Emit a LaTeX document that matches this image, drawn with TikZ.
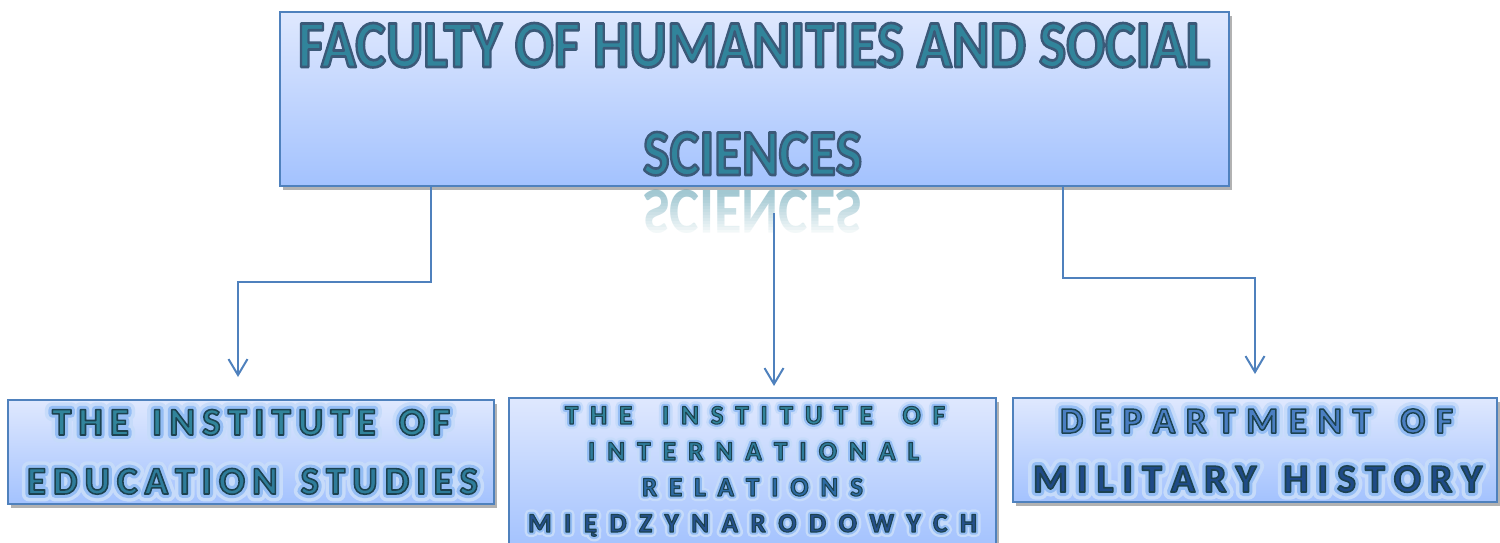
\documentclass[tikz,border=0pt]{standalone}
\usepackage{fontspec}
\setmainfont{Carlito}
\newfontfamily\glowfamA{Carlito}[BoldFeatures={FakeBold=38}]
\newfontfamily\glowfamB{Carlito}[BoldFeatures={FakeBold=20}]
\newfontfamily\edgefam{Carlito}[BoldFeatures={FakeBold=4}]
\usetikzlibrary{arrows.meta,shadows}
\definecolor{boxTop}{HTML}{DFE8FE}
\definecolor{boxMid}{HTML}{C8D9FE}
\definecolor{boxBot}{HTML}{A3C2FE}
\definecolor{boxEdge}{HTML}{4F81BD}
\definecolor{tealA}{HTML}{31849B}
\definecolor{tealB}{HTML}{2E7C9A}
\definecolor{blueC}{HTML}{2D6AA3}
\definecolor{blueD}{HTML}{25508C}
\definecolor{blueE}{HTML}{4A7EC2}
\definecolor{navyF}{HTML}{1F4A86}
\definecolor{glowA}{HTML}{C6DBFA}
\definecolor{glowB}{HTML}{94BDF4}
\newcommand\rjoin{\special{pdf:code 1 j 1 J}}
% stroke colour set after the fill colour (used by the emboldened outline)
\newcommand\edgeRG{\special{pdf:code 0.11 0.26 0.31 RG}}
\newcommand\edgeRGt{\special{pdf:code 0.23 0.35 0.47 RG}}
\def\spreadloop#1{\ifx#1\relax\else #1\hfill\expandafter\spreadloop\fi}
\newcommand\glowline[3]{%
  \def\gltxt{\makebox[#1][s]{\spreadloop#3\relax\unskip}}%
  \rjoin
  \makebox[0pt][l]{\glowfamA\bfseries\color{glowA}\gltxt}%
  \makebox[0pt][l]{\glowfamB\bfseries\color{glowB}\gltxt}%
  {\edgefam\bfseries\color{#2}\edgeRG\gltxt}%
}
\newcommand\toptext[3]{%
  \resizebox{#1}{#2}{\rjoin\edgefam\bfseries\color{tealA}\edgeRGt #3}%
}
\tikzset{
  box/.style={draw=boxEdge, line width=1.5pt, top color=boxTop, middle color=boxMid,
    bottom color=boxBot, inner sep=0pt, outer sep=0pt,
    drop shadow={shadow xshift=3pt, shadow yshift=-4pt, fill=black, opacity=0.3}},
  conn/.style={draw=boxEdge, line width=2pt, -{Straight Barb[length=16pt,width=19pt]}},
  txt/.style={anchor=base, inner sep=0pt, outer sep=0pt},
}
\begin{document}
\begin{tikzpicture}[x=1pt,y=-1pt]
\useasboundingbox (0,0) rectangle (1500,542);
% boxes
\node[box, minimum width=949pt, minimum height=174pt] (top) at (754.5,99) {};
\node[box, minimum width=486pt, minimum height=104pt] (left) at (251,452) {};
\node[box, minimum width=487pt, minimum height=150pt] (mid) at (752.5,473) {};
\node[box, minimum width=484pt, minimum height=104pt] (right) at (1255,450) {};
% top text
\node[txt, font=\fontsize{56}{56}\selectfont] (t1) at (754,67)
  {\toptext{912pt}{44pt}{FACULTY OF HUMANITIES AND SOCIAL}};
\node[txt, font=\fontsize{56}{56}\selectfont] (t2) at (752.5,175)
  {\toptext{219pt}{43pt}{SCIENCES}};
% reflection
\node[txt, font=\bfseries\fontsize{56}{56}\selectfont, text=tealA, text opacity=0.45] (refl) at (752.5,190)
  {\scalebox{1}[-1]{\resizebox{219pt}{43pt}{SCIENCES}}};
\foreach \i in {0,...,13}{
  \fill[white, opacity={min(1,0.03+\i*0.07)}] (630,{194+\i*3}) rectangle (875,{197+\i*3});
}
\fill[white] (630,236) rectangle (875,240);
% bottom texts
\node[txt, font=\fontsize{39}{39}\selectfont] (l1) at (251,435)
  {\glowline{398pt}{tealA}{THE~INSTITUTE~OF}};
\node[txt, font=\fontsize{39}{39}\selectfont] (l2) at (252.5,494)
  {\glowline{451pt}{tealB}{EDUCATION~STUDIES}};
\node[txt, font=\fontsize{27}{27}\selectfont] (m1) at (755,424)
  {\glowline{380pt}{tealA}{THE~INSTITUTE~OF}};
\node[txt, font=\fontsize{27}{27}\selectfont] (m2) at (753.5,460)
  {\glowline{331pt}{tealB}{INTERNATIONAL}};
\node[txt, font=\fontsize{27}{27}\selectfont] (m3) at (752.5,496)
  {\glowline{221pt}{blueC}{RELATIONS}};
\node[txt, font=\fontsize{27}{27}\selectfont] (m4) at (752.5,532)
  {\glowline{449pt}{blueD}{MIĘDZYNARODOWYCH}};
\node[txt, font=\fontsize{37}{37}\selectfont] (r1) at (1256.5,433)
  {\glowline{393pt}{blueE}{DEPARTMENT~OF}};
\node[txt, font=\fontsize{40}{40}\selectfont] (r2) at (1257.5,492)
  {\glowline{449pt}{navyF}{MILITARY~HISTORY}};
% connectors
\coordinate (mstart) at (774,213);
\draw[conn] ([xshift=-323.5pt]top.south) -- ++(0,96) -| ([xshift=-13pt,yshift=23pt]left.north);
\draw[conn] (mstart) -- ([xshift=21.5pt,yshift=12pt]mid.north);
\draw[conn] ([xshift=308.5pt]top.south) -- ++(0,92) -| ([yshift=24pt]right.north);
\end{tikzpicture}
\end{document}
